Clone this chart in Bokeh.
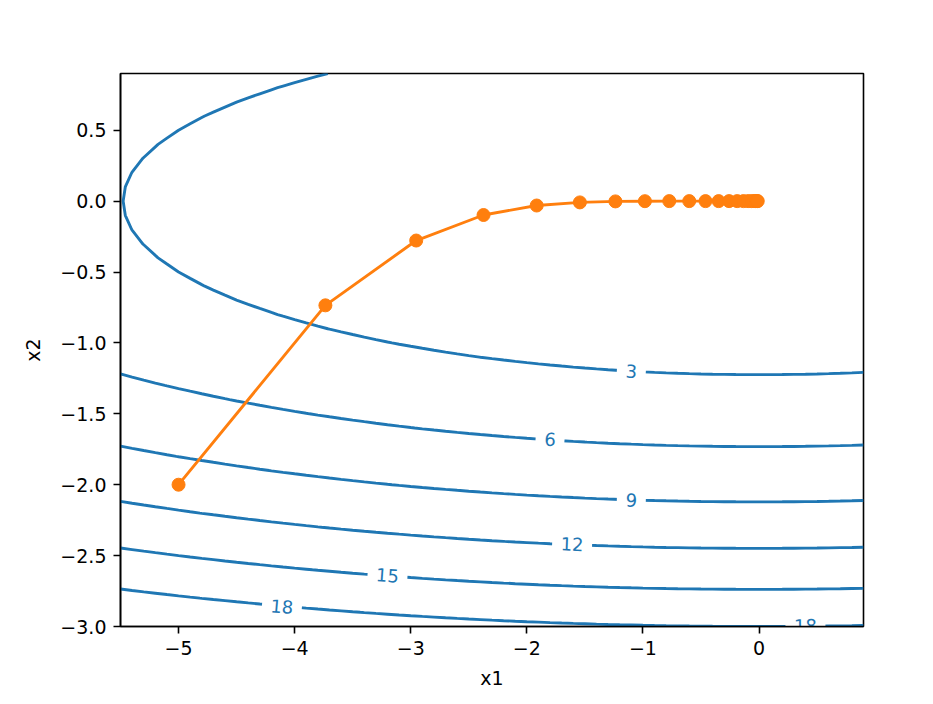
import numpy as np
from bokeh.plotting import figure
from bokeh.models import FixedTicker, CustomJSTickFormatter, Range1d
from bokeh.core.properties import value
from bokeh.embed import file_html
from bokeh.resources import INLINE

# objective f(x1, x2) = a*x1^2 + b*x2^2 on the plotted grid
coef_a = 0.1
coef_b = 2.0
grid_x1 = np.arange(-5.5, 1.0, 0.1)
grid_x2 = np.arange(-3.0, 1.0, 0.1)
levels = [3, 6, 9, 12, 15, 18]

# optimizer trajectory
path_x1 = [-5.0, -3.735, -2.953, -2.373, -1.915, -1.543, -1.237, -0.983,
           -0.773, -0.601, -0.461, -0.348, -0.258, -0.188, -0.134, -0.094,
           -0.064, -0.043, -0.028, -0.017, -0.011]
path_x2 = [-2.0, -0.735, -0.278, -0.098, -0.031, -0.009, -0.002, -0.0005,
           0.0, 0.0, 0.0, 0.0, 0.0, 0.0, 0.0, 0.0, 0.0, 0.0, 0.0, 0.0, 0.0]

# inline contour labels
label_x = [-1.10, -1.80, -1.10, -1.61, -3.20, -4.11, 0.40]
label_y = [-1.20, -1.68, -2.11, -2.42, -2.64, -2.86, -2.995]
label_text = ["3", "6", "9", "12", "15", "18", "18"]
label_deg = [-3.2, -3.7, -1.8, -2.3, -4.2, -5.0, 0.5]

x_ticks = [-5, -4, -3, -2, -1, 0]
y_ticks = [0.5, 0.0, -0.5, -1.0, -1.5, -2.0, -2.5, -3.0]

BLUE = "#1f77b4"
ORANGE = "#ff7f0e"
FONT = "DejaVu Sans"

p = figure(width=925, height=696, output_backend="svg", toolbar_location=None,
           x_range=Range1d(grid_x1[0], grid_x1[-1]),
           y_range=Range1d(grid_x2[0], grid_x2[-1]),
           min_border_left=120, min_border_right=62,
           min_border_top=73, min_border_bottom=70)
p.grid.visible = False
p.outline_line_color = "black"
p.outline_line_width = 1.6
p.background_fill_color = "white"
p.border_fill_color = "white"

X1, X2 = np.meshgrid(grid_x1, grid_x2)
Z = coef_a * X1 ** 2 + coef_b * X2 ** 2
p.contour(grid_x1, grid_x2, Z, levels, line_color=BLUE, line_width=2.9)

# gaps in the contour lines under the labels
rad = [d * np.pi / 180 for d in label_deg]
gap_w = [18 + 11 * len(t) for t in label_text]
p.rect(x=label_x, y=label_y, width=gap_w, height=14, angle=rad,
       width_units="screen", height_units="screen",
       fill_color="white", line_color=None)
p.text(x=label_x, y=label_y, text=label_text, angle=rad,
       text_align="center", text_baseline="middle", text_color=BLUE,
       text_font=value(FONT), text_font_size="18px")

p.line(path_x1, path_x2, line_color=ORANGE, line_width=2.9)
p.scatter(path_x1, path_x2, size=13, fill_color=ORANGE, line_color=ORANGE)

minus_fmt = """
var s = Math.abs(tick).toFixed(%d);
return (tick < -1e-9 ? '\\u2212' : '') + s;
"""
p.xaxis.ticker = FixedTicker(ticks=x_ticks)
p.yaxis.ticker = FixedTicker(ticks=y_ticks)
p.xaxis.formatter = CustomJSTickFormatter(code=minus_fmt % 0)
p.yaxis.formatter = CustomJSTickFormatter(code=minus_fmt % 1)
p.xaxis.axis_label = "x1"
p.yaxis.axis_label = "x2"

for ax in (p.xaxis[0], p.yaxis[0]):
    ax.axis_line_color = "black"
    ax.axis_line_width = 1.6
    ax.major_tick_line_color = "black"
    ax.major_tick_line_width = 1.6
    ax.major_tick_out = 7
    ax.major_tick_in = 0
    ax.minor_tick_line_color = None
    ax.major_label_standoff = 7
    ax.major_label_text_font = FONT
    ax.major_label_text_font_size = "19px"
    ax.major_label_text_color = "black"
    ax.axis_label_text_font = FONT
    ax.axis_label_text_font_size = "19px"
    ax.axis_label_text_font_style = "normal"
    ax.axis_label_text_color = "black"
p.xaxis.axis_label_standoff = 9
p.yaxis.axis_label_standoff = 13

open("out.html", "w").write(file_html(p, INLINE))
